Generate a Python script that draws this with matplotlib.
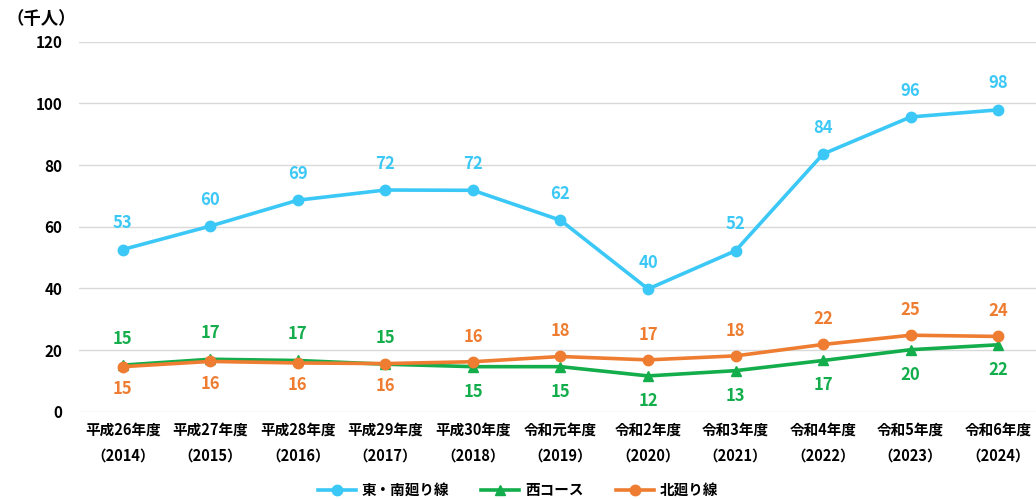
import numpy as np
import matplotlib.pyplot as plt

plt.rcParams['font.family'] = ['Noto Sans CJK JP', 'DejaVu Sans']

years = ["平成26年度\n（2014）", "平成27年度\n（2015）", "平成28年度\n（2016）", "平成29年度\n（2017）",
         "平成30年度\n（2018）", "令和元年度\n（2019）", "令和2年度\n（2020）", "令和3年度\n（2021）",
         "令和4年度\n（2022）", "令和5年度\n（2023）", "令和6年度\n（2024）"]
east_south = [52.6, 60.2, 68.6, 71.9, 71.8, 62.1, 39.8, 52.2, 83.6, 95.6, 97.9]
west = [15.1, 17.0, 16.6, 15.4, 14.6, 14.6, 11.6, 13.3, 16.6, 20.1, 21.7]
north = [14.6, 16.3, 15.8, 15.6, 16.2, 17.9, 16.8, 18.1, 21.8, 24.8, 24.4]

c_blue = '#3CC8F6'
c_green = '#13AD4B'
c_orange = '#EE7D31'

fig = plt.figure(figsize=(10.36, 4.99), dpi=100)
ax = fig.add_axes([79 / 1036, 0.175, (1042 - 79) / 1036, 0.7414])

x = np.arange(len(years))
ax.plot(x, east_south, color=c_blue, lw=2.6, marker='o', ms=7.5, label='東・南廻り線', zorder=3)
ax.plot(x, west, color=c_green, lw=2.6, marker='^', ms=7.5, label='西コース', zorder=3)
ax.plot(x, north, color=c_orange, lw=2.6, marker='o', ms=7.5, label='北廻り線', zorder=4)

lab_kw = dict(textcoords='offset points', ha='center', va='center', fontsize=12, fontweight='bold')
for i, v in enumerate(east_south):
    ax.annotate(f"{v:.0f}", (i, v), xytext=(0, 19), color=c_blue, **lab_kw)
for i, (g, o) in enumerate(zip(west, north)):
    if i < 4:
        gy, oy = 19, -16
    else:
        gy, oy = -18, 18
    ax.annotate(f"{g:.0f}", (i, g), xytext=(0, gy), color=c_green, **lab_kw)
    ax.annotate(f"{o:.0f}", (i, o), xytext=(0, oy), color=c_orange, **lab_kw)

ax.set_ylim(0, 120)
ax.set_yticks(range(0, 121, 20))
ax.set_xlim(-0.5, 10.5)
ax.set_xticks(x)
ax.set_xticklabels(years, fontsize=10.5, fontweight='bold', linespacing=1.75)
ax.tick_params(axis='y', labelsize=11, length=0, pad=12)
ax.tick_params(axis='x', length=0, pad=7)
for t in ax.get_yticklabels():
    t.set_fontweight('bold')
ax.grid(axis='y', color='#d9d9d9', lw=1)
ax.set_axisbelow(True)
for s in ax.spines.values():
    s.set_visible(False)

fig.text(0.006, 0.962, '（千人）', fontsize=12.5, fontweight='bold', va='center', ha='left')

fig.legend(loc='center', bbox_to_anchor=(0.5, 0.018), ncol=3, frameon=False,
           prop={'weight': 'bold', 'size': 10.5}, handlelength=2.6, columnspacing=2.2, handletextpad=0.4)

fig.savefig('out.png', dpi=100)
